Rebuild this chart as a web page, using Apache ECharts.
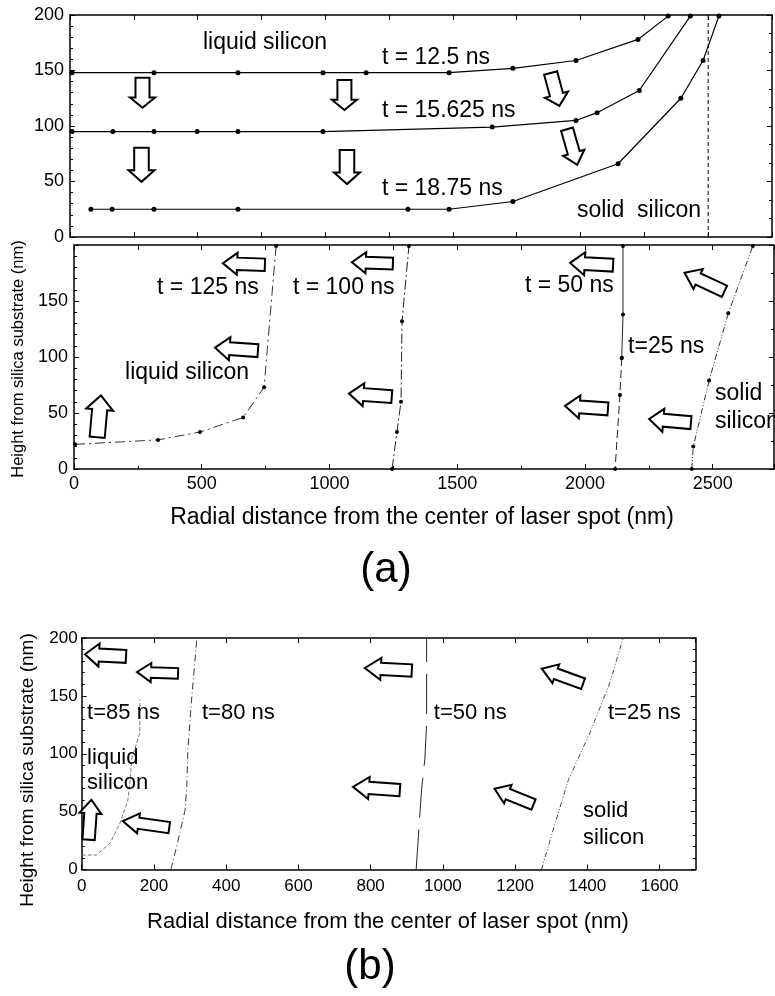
<!DOCTYPE html>
<html>
<head>
<meta charset="utf-8">
<title>Melt front</title>
<script src="https://cdn.jsdelivr.net/npm/echarts@6.0.0/dist/echarts.min.js"></script>
<style>
	html, body { margin: 0; padding: 0; background: #fff; }
	#chart { width: 775px; height: 996px; }
</style>
</head>
<body>
<div id="chart"></div>
<script>
// (a) upper panel, [radial distance nm, height nm]
var a1_t12_5 = [[8,148],[329,148],[658,148],[991,148],[1160,148],[1485,148],[1735,152],[1982,159],[2225,178],[2343,199]];
var a1_t15_625 = [[8,95],[168,95],[329,95],[498,95],[658,95],[991,95],[1654,99],[1982,105],[2065,112],[2230,132],[2430,199]];
var a1_t18_75 = [[82,25],[165,25],[329,25],[658,25],[1324,25],[1485,25],[1735,32],[2147,66],[2393,125],[2480,159],[2542,199]];
var a1_edge = [[2500,0],[2500,200]];

// (a) lower panel
var a2_t125 = [[4,22],[329,26],[493,33],[662,46],[744,73],[791,199]];
var a2_t100 = [[1245,0],[1264,33],[1280,60],[1284,132],[1311,199]];
var a2_t50_top = [[2149,199],[2149,138],[2144,99]];
var a2_t50_low = [[2144,99],[2137,66],[2118,0]];
var a2_t25 = [[2418,0],[2424,20],[2486,79],[2561,139],[2657,199]];

// (b)
var b_t85 = [[0,12.5],[41,12.5],[79,23],[106,40],[128,60],[134,77],[138,95],[161,118],[161,147]];
var b_t80 = [[247,0],[263,20],[286,51],[291,72],[294,103],[304,146],[319,200]];
var b_t50 = [[926,0],[941,69],[950,95],[955,126],[955,200]];
var b_t25 = [[1273,0],[1305,34],[1347,77],[1407,118],[1462,161],[1499,200]];

// arrows: [panel, x, y, length px, width px, rotation deg]
var arrows = [
	[0, 284, 130, 30, 25, 90], [0, 1075, 128, 30, 25, 90],
	[0, 280, 65, 34, 26, 90], [0, 1085, 63, 34, 26, 90],
	[0, 1900, 133, 34, 24, 105], [0, 1967, 81, 37, 22, 106],
	[1, 665, 183, 42, 22, -2], [1, 1168, 184, 41, 21, -2],
	[1, 636, 107, 43, 23, -4], [1, 1160, 66, 43, 23, -4],
	[1, 98, 47, 42, 27, -95], [1, 2026, 183, 43, 23, -3],
	[1, 2006, 55, 43, 23, -4], [1, 2333, 43, 42, 23, -5],
	[1, 2468, 167, 44, 22, -25],
	[2, 66, 185, 41, 23, -3], [2, 210, 170, 41, 19, -2],
	[2, 23, 43, 40, 22, -94], [2, 178, 39, 47, 20, -8],
	[2, 816, 70, 47, 22, -4], [2, 849, 173, 47, 22, -3],
	[2, 1331, 167, 44, 20, -20], [2, 1197, 63, 42, 20, -22]
];

// in-plot labels: [panel, x, y, text, size]
var labels = [
	[0, 521, 175, 'liquid silicon', 23], [0, 1222, 162, 't = 12.5 ns', 23],
	[0, 1222, 114, 't = 15.625 ns', 23], [0, 1222, 44, 't = 18.75 ns', 23],
	[0, 1986, 24, 'solid  silicon', 23],
	[1, 325, 162, 't = 125 ns', 23], [1, 857, 162, 't = 100 ns', 23],
	[1, 1765, 164, 't = 50 ns', 23], [1, 2169, 109, 't=25 ns', 23],
	[1, 200, 86, 'liquid silicon', 23], [1, 2509, 67, 'solid', 23],
	[1, 2509, 42, 'silicon', 23],
	[2, 15, 135, 't=85 ns', 22], [2, 333, 135, 't=80 ns', 22],
	[2, 975, 135, 't=50 ns', 22], [2, 1457, 135, 't=25 ns', 22],
	[2, 15, 96, 'liquid', 22], [2, 15, 75, 'silicon', 22],
	[2, 1388, 51, 'solid', 22], [2, 1388, 27, 'silicon', 22]
];

var FONT = '"Liberation Sans", Arial, Helvetica, sans-serif';

function axis(o) {
	return {
		type: 'value', gridIndex: o.grid, position: o.pos,
		min: o.min, max: o.max, interval: o.interval,
		axisLine: { show: true, onZero: false, lineStyle: { color: '#000', width: 1.5 } },
		axisTick: { show: true, inside: true, length: 5, lineStyle: { color: '#000', width: 1 } },
		minorTick: { show: !!o.minor, splitNumber: o.minor || 5, length: 3, lineStyle: { color: '#000', width: 1 } },
		splitLine: { show: false },
		minorSplitLine: { show: false },
		axisLabel: {
			show: !!o.label, color: '#000', fontFamily: FONT, fontSize: o.fs || 18,
			margin: o.margin || 6, showMaxLabel: o.showMax !== false, showMinLabel: true,
			formatter: function (v) { return String(v); }
		}
	};
}

function line(data, ax, style, sym) {
	return {
		type: 'line', data: data, xAxisIndex: ax, yAxisIndex: ax,
		symbol: sym ? 'circle' : 'none', symbolSize: sym || 0,
		itemStyle: { color: '#000' },
		lineStyle: Object.assign({ color: '#000', width: 1.2 }, style),
		silent: true, animation: false
	};
}

var option = {
	backgroundColor: '#fff',
	animation: false,
	grid: [
		{ left: 70, top: 15, width: 702, height: 222, outerBoundsMode: 'none' },
		{ left: 74, top: 245, width: 700, height: 224, outerBoundsMode: 'none' },
		{ left: 81.7, top: 638, width: 614, height: 231.5, outerBoundsMode: 'none' }
	],
	xAxis: [
		axis({ grid: 0, pos: 'bottom', min: 0, max: 2750, interval: 250 }),
		axis({ grid: 1, pos: 'bottom', min: 0, max: 2740, interval: 500, minor: 2, label: true, showMax: false }),
		axis({ grid: 2, pos: 'bottom', min: 0, max: 1700, interval: 200, minor: 0, label: true, fs: 17, showMax: false, margin: 8 }),
		axis({ grid: 0, pos: 'top', min: 0, max: 2750, interval: 250 }),
		axis({ grid: 1, pos: 'top', min: 0, max: 2740, interval: 250 }),
		axis({ grid: 2, pos: 'top', min: 0, max: 1700, interval: 200 })
	],
	yAxis: [
		axis({ grid: 0, pos: 'left', min: 0, max: 200, interval: 50, minor: 5, label: true }),
		axis({ grid: 1, pos: 'left', min: 0, max: 200, interval: 50, minor: 5, label: true, showMax: false }),
		axis({ grid: 2, pos: 'left', min: 0, max: 200, interval: 50, minor: 5, label: true, fs: 17, margin: 4 }),
		axis({ grid: 0, pos: 'right', min: 0, max: 200, interval: 50, minor: 3 }),
		axis({ grid: 1, pos: 'right', min: 0, max: 200, interval: 50, minor: 2 }),
		axis({ grid: 2, pos: 'right', min: 0, max: 200, interval: 50, minor: 5 })
	],
	series: [
		line(a1_t12_5, 0, {}, 5),
		line(a1_t15_625, 0, {}, 5),
		line(a1_t18_75, 0, {}, 5),
		line(a1_edge, 0, { width: 1, type: [4, 3] }),
		line(a2_t125, 1, { width: 1, color: '#333', type: [10, 4, 2, 4] }, 4),
		line(a2_t100, 1, { width: 1, color: '#222', type: [10, 3, 2, 3] }, 4),
		line(a2_t50_top, 1, { width: 1, color: '#222' }, 4),
		line(a2_t50_low, 1, { width: 1, color: '#222', type: [8, 4] }, 4),
		line(a2_t25, 1, { width: 1, color: '#333', type: [6, 2, 1, 2, 1, 2] }, 4),
		line(b_t85, 2, { width: 0.8, color: '#555', type: [4, 2] }),
		line(b_t80, 2, { width: 0.9, color: '#222', type: [7, 3, 1, 3] }),
		line(b_t50, 2, { width: 1, color: '#222', type: [40, 12] }),
		line(b_t25, 2, { width: 0.9, color: '#333', type: [5, 2, 1, 2, 1, 2] })
	]
};

var chart = echarts.init(document.getElementById('chart'), null, { renderer: 'canvas' });
chart.setOption(option);

function arrowShape(p, L, H, deg) {
	var hl = L * 0.34, sh = H * 0.56;
	return {
		type: 'polygon', x: p[0], y: p[1], rotation: deg * Math.PI / 180, z: 100,
		shape: { points: [[-L / 2, 0], [-L / 2 + hl, -H / 2], [-L / 2 + hl, -sh / 2], [L / 2, -sh / 2],
			[L / 2, sh / 2], [-L / 2 + hl, sh / 2], [-L / 2 + hl, H / 2]] },
		style: { fill: '#fff', stroke: '#000', lineWidth: 2, lineJoin: 'miter' }
	};
}

function txt(x, y, s, size, align, rot) {
	return {
		type: 'text', x: x, y: y, z: 110, rotation: rot || 0,
		style: { text: s, fill: '#000', fontFamily: FONT, fontSize: size,
			textAlign: align || 'left', textVerticalAlign: 'middle', verticalAlign: 'middle' }
	};
}

var gr = [];
arrows.forEach(function (a) {
	var p = chart.convertToPixel({ xAxisIndex: a[0], yAxisIndex: a[0] }, [a[1], a[2]]);
	gr.push(arrowShape(p, a[3], a[4], a[5]));
});
labels.forEach(function (l) {
	var p = chart.convertToPixel({ xAxisIndex: l[0], yAxisIndex: l[0] }, [l[1], l[2]]);
	gr.push(txt(p[0], p[1], l[3], l[4]));
});
// axis titles and panel captions
gr.push(txt(422, 518, 'Radial distance from the center of laser spot (nm)', 23, 'center'));
gr.push(txt(386, 570, '(a)', 42, 'center'));
gr.push(txt(18, 359, 'Height from silica substrate (nm)', 16.5, 'center', Math.PI / 2));
gr.push(txt(388, 922, 'Radial distance from the center of laser spot (nm)', 22, 'center'));
gr.push(txt(370, 967, '(b)', 42, 'center'));
gr.push(txt(28, 770, 'Height from silica substrate (nm)', 19, 'center', Math.PI / 2));

chart.setOption({ graphic: gr });
</script>
</body>
</html>
